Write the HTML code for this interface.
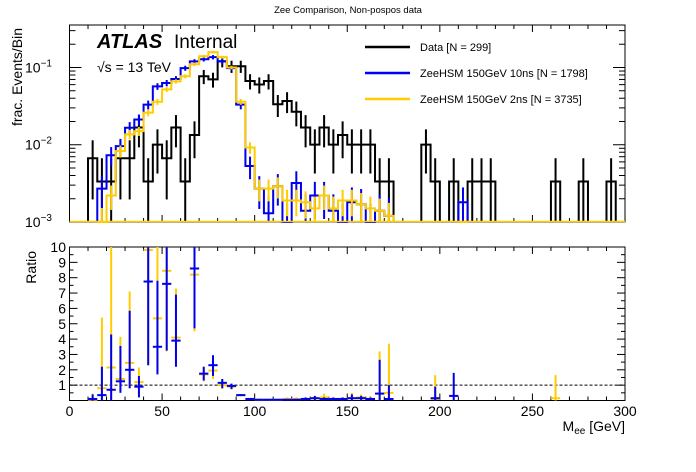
<!DOCTYPE html>
<html><head><meta charset="utf-8"><style>
body{margin:0;background:#fff}
svg{display:block;font-family:"Liberation Sans",sans-serif}
</style></head><body>
<svg id="c" width="696" height="472" viewBox="0 0 696 472">
<rect width="696" height="472" fill="#fff"/>
<text x="348" y="13" font-size="9.5" text-anchor="middle">Zee Comparison, Non-pospos data</text>
<g id="topPanel"></g>
<g id="botPanel"></g>
<text transform="translate(22,28) rotate(-90)" font-size="14" text-anchor="end">frac. Events/Bin</text>
<text transform="translate(36,251) rotate(-90)" font-size="14" text-anchor="end">Ratio</text>
<text x="625" y="431" font-size="14" text-anchor="end">M<tspan font-size="10" dy="3">ee</tspan><tspan dy="-3"> [GeV]</tspan></text>
<text x="97" y="48" font-size="20" font-weight="bold" font-style="italic">ATLAS</text>
<text x="174" y="48" font-size="19">Internal</text>
<text x="97" y="72" font-size="14">√s = 13 TeV</text>
<g>
<line x1="365" y1="47" x2="410" y2="47" stroke="#000" stroke-width="2.5"/>
<text x="420" y="51" font-size="11">Data [N = 299]</text>
<line x1="365" y1="73" x2="410" y2="73" stroke="#0000ee" stroke-width="2.5"/>
<text x="420" y="77" font-size="11">ZeeHSM 150GeV 10ns [N = 1798]</text>
<line x1="365" y1="99" x2="410" y2="99" stroke="#ffcc00" stroke-width="2.5"/>
<text x="420" y="103" font-size="11">ZeeHSM 150GeV 2ns [N = 3735]</text>
</g>
</svg>
<script>
const dataBins=[10,15,20,25,30,35,40,45,50,55,60,65,70,75,80,85,90,95,100,105,110,115,120,125,130,135,140,145,150,155,160,165,170,190,195,205,215,220,225,260,275,290];
const dataCounts=[2,1,1,2,2,5,1,3,2,5,1,4,23,21,36,31,31,20,18,20,10,11,8,5,3,5,3,4,3,3,3,1,1,3,1,1,1,1,1,1,1,1];
const dataTotal=299;
const mcBins=[15,20,25,30,35,40,45,50,55,60,65,70,75,80,85,90,95,100,105,110,115,120,125,130,135,140,145,150,155,160,165,170,210];
const blueVals=[0.0027,0.0073,0.0096,0.0166,0.0212,0.033,0.057,0.063,0.071,0.098,0.12,0.128,0.136,0.12,0.098,0.033,0.0053,0.0027,0.0013,0.0029,0.001,0.0032,0.0014,0.0022,0.0022,0.0014,0.001,0.0018,0.0017,0.001,0.0014,0.0012,0.0018];
const yellowVals=[0.001,0.0022,0.0083,0.0136,0.015,0.026,0.036,0.052,0.066,0.077,0.11,0.14,0.158,0.136,0.1,0.036,0.0092,0.0027,0.0027,0.0029,0.0019,0.0019,0.0018,0.0015,0.0022,0.0015,0.0019,0.0019,0.0017,0.0015,0.0014,0.0012,0];
const ratioCenters=[12.5,17.5,22.5,27.5,32.5,37.5,42.5,47.5,52.5,57.5,67.5,72.5,77.5,82.5,87.5,92.5,97.5,102.5,107.5,112.5,117.5,122.5,127.5,132.5,137.5,142.5,147.5,152.5,157.5,162.5,167.5,172.5,197.5,207.5,262.5];
const blueRatio=[0.1,0.35,0.7,1.25,2.0,0.9,7.75,3.5,7.6,3.9,8.6,1.75,2.3,1.15,0.95,0.35,0.1,0.05,0.05,0.05,0.05,0.05,0.1,0.15,0.1,0.1,0.1,0.15,0.15,0.1,0.45,0.1,0.15,0.3,null];
const blueLo=[0,0,0,0.5,0.8,0.2,2.3,1.7,3.25,2.2,4.7,1.3,1.6,0.8,0.75,0.3,0.05,0,0,0,0,0,0,0,0,0,0,0,0,0,0,0,0,0,null];
const blueHi=[0.4,2.2,4.3,3.55,5.85,1.6,10,7.8,10,6.9,10,2.2,2.95,1.4,1.1,0.4,0.15,0.1,0.1,0.1,0.1,0.1,0.2,0.3,0.2,0.2,0.2,0.4,0.3,0.2,2.65,1.0,0.9,1.8,null];
const yellowRatio=[0.05,0.8,2.15,1.4,2.45,1.2,9.8,5.35,8.45,4.1,8.2,1.7,1.95,1.0,0.9,0.35,0.1,0.05,0.05,0.05,0.1,0.1,0.1,0.15,0.2,0.1,0.1,0.15,0.2,0.1,0.45,0.5,0.1,null,0.15];
const yellowLo=[0,0,0,0.6,0.8,0.3,2.3,1.8,3.2,2.3,4.5,1.25,1.4,0.75,0.7,0.3,0.05,0,0,0,0,0,0,0,0,0,0,0,0,0,0,0,0,null,0];
const yellowHi=[0.45,5.4,10,4.15,7.1,2.15,10,10,10,7.3,10,2.2,2.6,1.4,1.05,0.4,0.15,0.1,0.1,0.1,0.2,0.2,0.2,0.3,0.45,0.2,0.2,0.5,0.4,0.3,3.2,3.7,1.65,null,1.65];
const xTicks=[0,50,100,150,200,250,300];
const ratioTicks=[1,2,3,4,5,6,7,8,9,10];
const logTicks=[-1,-2,-3];

const NS="http://www.w3.org/2000/svg";
const X0=69.5,X1=625,T0=25,T1=222,B0=247,B1=400.5;
const BW=5;
const xs=v=>X0+(v/300)*(X1-X0);
const LMIN=-3,LMAX=-0.45;
const ys=v=>{const l=Math.log10(Math.max(v,1e-3));return T1-(l-LMIN)/(LMAX-LMIN)*(T1-T0);};
const yr=v=>B1-(Math.min(v,10)/10)*(B1-B0);
const topG=document.getElementById('topPanel'),botG=document.getElementById('botPanel');
function mk(p,t,a){const e=document.createElementNS(NS,t);for(const k in a)e.setAttribute(k,a[k]);p.appendChild(e);return e;}

let f1=mk(topG,'rect',{x:X0,y:T0,width:X1-X0,height:T1-T0,fill:'none',stroke:'#000','stroke-width':1});


let f2=mk(botG,'rect',{x:X0,y:B0,width:X1-X0,height:B1-B0,fill:'none',stroke:'#000','stroke-width':1});



for(let v=0;v<=300;v+=10){
  const L=(v%50===0)?7:4;
  mk(topG,'line',{x1:xs(v),x2:xs(v),y1:T1,y2:T1-L,stroke:'#000'});
  mk(topG,'line',{x1:xs(v),x2:xs(v),y1:T0,y2:T0+L,stroke:'#000'});
  mk(botG,'line',{x1:xs(v),x2:xs(v),y1:B1,y2:B1-L,stroke:'#000'});
  mk(botG,'line',{x1:xs(v),x2:xs(v),y1:B0,y2:B0+L,stroke:'#000'});
}
xTicks.forEach(v=>{
  const t=mk(botG,'text',{x:xs(v),y:416,'font-size':14,'text-anchor':'middle'});
  t.textContent=v;
  
  
});
for(let d=-3;d<0;d++){for(let m=1;m<10;m++){const v=m*Math.pow(10,d);const y=ys(v);if(y<T0)continue;const L=m===1?12:6;
  mk(topG,'line',{x1:X0,x2:X0+L,y1:y,y2:y,stroke:'#000'});mk(topG,'line',{x1:X1,x2:X1-L,y1:y,y2:y,stroke:'#000'});}}
logTicks.forEach(d=>{
  const t=mk(topG,'text',{x:52,y:ys(Math.pow(10,d))+5,'font-size':14,'text-anchor':'end'});
  t.textContent='10';
  const s=mk(t,'tspan',{dy:-6,'font-size':10});s.textContent='−'+(-d);
  
  
});
for(let v=0;v<=10;v+=0.5){const L=(v%1===0)?8:4;const y=yr(v);
  mk(botG,'line',{x1:X0,x2:X0+L,y1:y,y2:y,stroke:'#000'});mk(botG,'line',{x1:X1,x2:X1-L,y1:y,y2:y,stroke:'#000'});}
ratioTicks.forEach(v=>{
  const t=mk(botG,'text',{x:66,y:yr(v)+5,'font-size':14,'text-anchor':'end'});
  t.textContent=v;
  
  
});
mk(botG,'line',{x1:X0,x2:X1,y1:yr(1),y2:yr(1),stroke:'#000','stroke-dasharray':'3,2'});

function hist(bins,vals,color,name,total,counts){
  const g=mk(topG,'g',{});
  
  
  let d='';let prevEnd=null;
  bins.forEach((b,i)=>{
    const v=vals[i];const x0=xs(b),x1=xs(b+BW),y=ys(v);
    if(prevEnd===null||Math.abs(prevEnd-x0)>0.1){d+=(prevEnd!==null?` L${prevEnd},${T1}`:'')+` M${x0},${T1}`;}
    d+=` L${x0},${y} L${x1},${y}`;prevEnd=x1;
  });
  d+=` L${prevEnd},${T1}`;
  mk(g,'path',{d:d,fill:'none',stroke:color,'stroke-width':2});
  bins.forEach((b,i)=>{
    const v=vals[i];if(v<=0)return;
    let e;
    if(counts){e=Math.sqrt(counts[i])/total;}else{e=Math.sqrt(v/total);}
    const xc=xs(b+BW/2);
    const yt=Math.max(ys(v+e),T0),yb=v-e>1e-3?ys(v-e):T1;
    const l=mk(g,'line',{x1:xc,x2:xc,y1:yt,y2:yb,stroke:color,'stroke-width':2});
    
    
  });
}
hist(dataBins,dataCounts.map(c=>c/dataTotal),'#000','data-histogram',dataTotal,dataCounts);
hist(mcBins,blueVals,'#0000ee','zeehsm-10ns-histogram',1798,null);
hist(mcBins,yellowVals,'#ffcc00','zeehsm-2ns-histogram',3735,null);
mk(topG,'line',{x1:X0,x2:X1,y1:T1-0.5,y2:T1-0.5,stroke:'#ffcc00','stroke-width':1.5});

function ratio(vals,lo,hi,color,name){
  const g=mk(botG,'g',{});
  
  
  ratioCenters.forEach((c,i)=>{
    if(vals[i]==null)return;
    const xc=xs(c);
    mk(g,'line',{x1:xc,x2:xc,y1:yr(hi[i]),y2:yr(lo[i]),stroke:color,'stroke-width':2});
    if(vals[i]<=10){const p=mk(g,'line',{x1:xs(c-BW/2),x2:xs(c+BW/2),y1:yr(vals[i]),y2:yr(vals[i]),stroke:color,'stroke-width':2});
      
      }
  });
}
ratio(yellowRatio,yellowLo,yellowHi,'#ffcc00','ratio-2ns');
ratio(blueRatio,blueLo,blueHi,'#0000ee','ratio-10ns');
</script>
</body></html>
